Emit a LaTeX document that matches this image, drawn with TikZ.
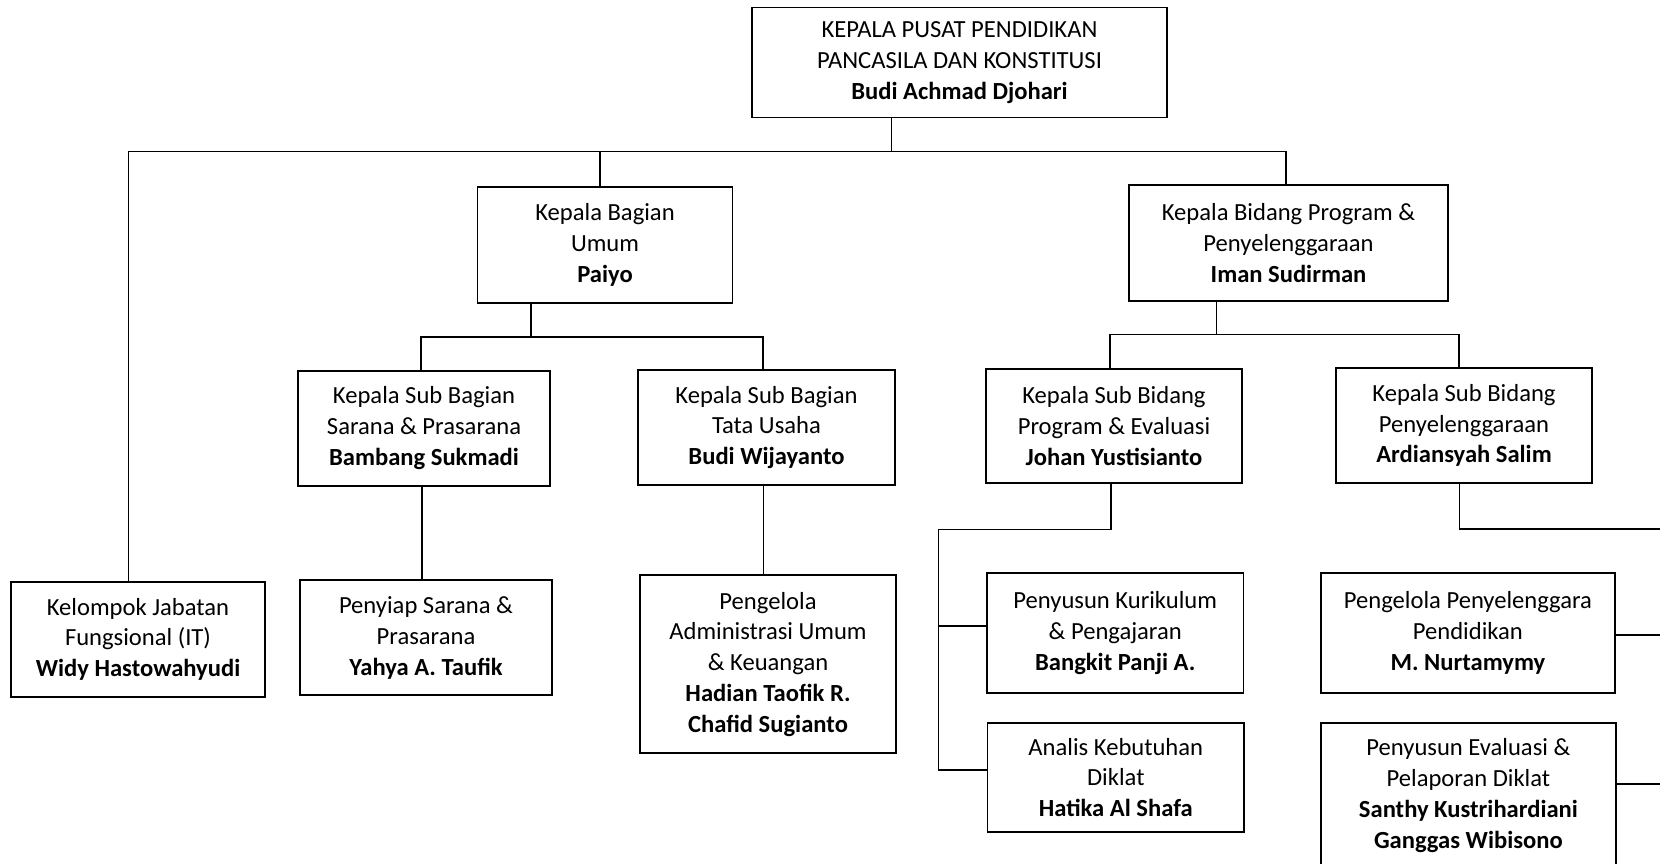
\documentclass[tikz,border=0pt]{standalone}
\usepackage{fontspec}
\setmainfont{Carlito}
\begin{document}
\begin{tikzpicture}[x=0.5pt,y=-0.5pt,
  box/.style 2 args={draw, line width=0.9pt, align=center, inner sep=0pt,
    minimum width=#1*0.5pt, minimum height=#2*0.5pt,
    font=\fontsize{12.3}{15.4}\selectfont},
  conn/.style={line width=0.85pt}]
\useasboundingbox (0,0) rectangle (1660,863);
\fill[white] (0,0) rectangle (1660,863);

% nodes
\node[box={415}{110}] (top) at (959.5,62.5) {KEPALA PUSAT PENDIDIKAN\\PANCASILA DAN KONSTITUSI\\\textbf{Budi Achmad Djohari}};
\node[box={255}{116}] (kbu) at (605,244.7) {Kepala Bagian\\Umum\\\textbf{Paiyo}};
\node[box={319}{116}] (kbp) at (1288.5,243) {Kepala Bidang Program \&\\Penyelenggaraan\\\textbf{Iman Sudirman}};
\node[box={251.5}{115.3}] (sar) at (424,428.3) {Kepala Sub Bagian\\Sarana \& Prasarana\\\textbf{Bambang Sukmadi}};
\node[box={257}{115}] (tu) at (766.5,427.5) {Kepala Sub Bagian\\Tata Usaha\\\textbf{Budi Wijayanto}};
\node[box={256}{114.3}] (joh) at (1114,426.2) {Kepala Sub Bidang\\Program \& Evaluasi\\\textbf{Johan Yustisianto}};
\node[box={256}{114.4}] (ard) at (1464,425.5) {Kepala Sub Bidang\\Penyelenggaraan\\\textbf{Ardiansyah Salim}};
\node[box={254.6}{115}] (kel) at (138,639.2) {Kelompok Jabatan\\Fungsional (IT)\\\textbf{Widy Hastowahyudi}};
\node[box={252}{115.3}] (pny) at (426,637.7) {Penyiap Sarana \&\\Prasarana\\\textbf{Yahya A. Taufik}};
\node[box={256}{178.3}] (adm) at (768,664.2) {Pengelola\\Administrasi Umum\\\& Keuangan\\\textbf{Hadian Taofik R.}\\\textbf{Chafid Sugianto}};
\node[box={256.4}{119.4}] (kur) at (1115.2,633) {Penyusun Kurikulum\\\& Pengajaran\\\textbf{Bangkit Panji A.}};
\node[box={256.5}{108.4}] (ana) at (1115.8,777.5) {Analis Kebutuhan\\Diklat\\\textbf{Hatika Al Shafa}};
\node[box={294.3}{119.4}] (ppn) at (1467.9,633) {Pengelola Penyelenggara\\Pendidikan\\\textbf{M. Nurtamymy}};
\node[box={295.3}{145.6}] (pev) at (1468.4,795.5) {Penyusun Evaluasi \&\\Pelaporan Diklat\\\textbf{Santhy Kustrihardiani}\\\textbf{Ganggas Wibisono}};

% level 1 bus
\coordinate (t1) at (891.5,151.5);
\coordinate (busL) at (128.5,151.5);
\coordinate (busR) at (1286,151.5);
\coordinate (kbuX) at (600.3,151.5);
\draw[conn] (top.south -| t1) -- (t1);
\draw[conn] (kel.north -| busL) -- (busL) -- (busR) -- (kbp.north -| busR);
\draw[conn] (kbuX) -- (kbu.north -| kbuX);

% Bagian Umum
\coordinate (b2) at (531,337);
\coordinate (b2L) at (421,337);
\coordinate (b2R) at (763,337);
\draw[conn] (kbu.south -| b2) -- (b2);
\draw[conn] (sar.north -| b2L) -- (b2L) -- (b2R) -- (tu.north -| b2R);
\coordinate (x1) at (422,0);
\coordinate (x2) at (763.4,0);
\draw[conn] (sar.south -| x1) -- (pny.north -| x1);
\draw[conn] (tu.south -| x2) -- (adm.north -| x2);

% Bidang Program
\coordinate (b3) at (1216.5,334.5);
\coordinate (b3L) at (1110,334.5);
\coordinate (b3R) at (1459,334.5);
\draw[conn] (kbp.south -| b3) -- (b3);
\draw[conn] (joh.north -| b3L) -- (b3L) -- (b3R) -- (ard.north -| b3R);

% Johan branch
\coordinate (j1) at (1111,529.5);
\coordinate (j2) at (938.5,529.5);
\coordinate (j3) at (938.5,770);
\coordinate (j4) at (938.5,626);
\draw[conn] (joh.south -| j1) -- (j1) -- (j2) -- (j3) -- (ana.west |- j3);
\draw[conn] (j4) -- (kur.west |- j4);

% Ardiansyah branch (runs off the right edge)
\coordinate (a1) at (1459.5,529.3);
\coordinate (a2) at (1690,529.3);
\coordinate (e1) at (1690,635);
\coordinate (e2) at (1690,784);
\draw[conn] (ard.south -| a1) -- (a1) -- (a2) -- (e2);
\draw[conn] (ppn.east |- e1) -- (e1);
\draw[conn] (pev.east |- e2) -- (e2);
\end{tikzpicture}
\end{document}
